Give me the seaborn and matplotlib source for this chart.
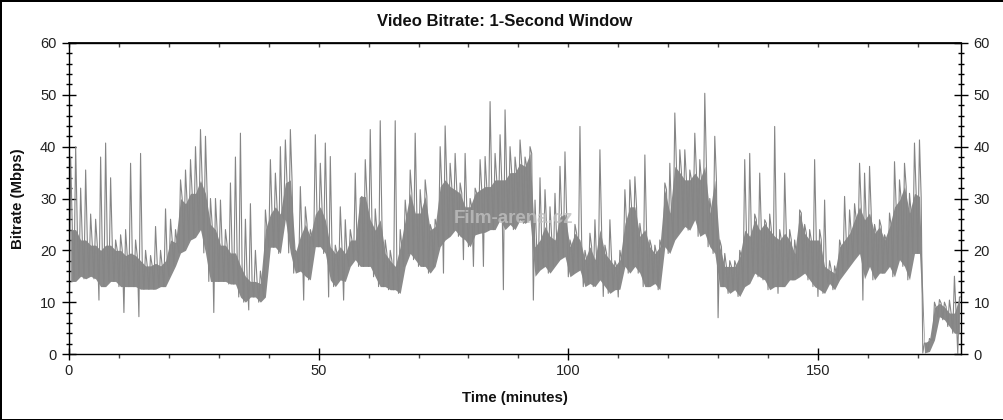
import numpy as np
import pandas as pd
import seaborn as sns
import matplotlib.pyplot as plt
from matplotlib.ticker import MultipleLocator

sns.set_theme(style="white")
plt.rcParams['font.family'] = ['Liberation Sans', 'DejaVu Sans']

# per-minute readings (Mbps): bottom/top of the dense band and highest spike
minutes = np.arange(179)
band_lo = [
    14, 14, 15, 14.5, 15, 14.5, 13, 13, 14, 14,
    13, 13, 13, 13, 12.5, 12.5, 12.5, 12.5, 13, 13,
    15, 17, 19.5, 20, 22, 22.5, 24, 19.5, 14, 14,
    14, 14, 13.5, 13.5, 11, 10, 11, 11, 10, 11,
    20.6, 20.6, 19.4, 26, 19.5, 15.6, 16, 15, 14.3, 20.7,
    20.7, 19.4, 14.3, 13, 14.3, 14, 16.9, 18.2, 16.9, 16.9,
    16.9, 14.9, 13, 13, 12.4, 12.4, 11.7, 16.9, 19.4, 18.2,
    16.9, 16.9, 15.6, 16.9, 20.7, 22, 22.7, 23.9, 22.7, 22,
    20.7, 23, 23.3, 23.5, 24, 24, 25.9, 24, 25, 24,
    25.9, 25.2, 25.9, 15, 16.2, 16.9, 15.6, 16.9, 18.2, 18.8,
    14.9, 15.6, 16.2, 13, 13.6, 13, 14.3, 13, 11.7, 12.4,
    12.5, 16.9, 15.6, 16.9, 15.6, 13, 13, 13.6, 12.4, 20.7,
    19.4, 22, 23.3, 24.6, 23.9, 25.9, 22.7, 23.3, 20.7, 19.4,
    13, 13, 11.7, 12.4, 11.1, 13, 13.6, 15.6, 14.9, 14.3,
    12.4, 13, 13, 13, 14.3, 14.3, 14.9, 15.6, 14.3, 13,
    12.4, 11.7, 13.6, 12.4, 14.3, 15.6, 16.9, 18.2, 19.4, 14.5,
    16.9, 14.3, 15.6, 15.6, 16.9, 14.9, 18.2, 16.9, 14.3, 19.4,
    19.4, 0.2, 0.5, 2.7, 7.2, 6.6, 5.3, 4, 4,
]
band_hi = [
    24, 24, 22, 22, 21, 21, 20, 21, 21, 20,
    20, 19, 19.5, 19, 18, 17, 17, 17.5, 17, 18,
    22, 21.5, 30, 29, 31, 31, 33.5, 31, 25, 24,
    21, 21, 19.5, 19.5, 17, 15, 14, 14, 13.6, 24,
    27, 28.4, 27, 33, 33.6, 19.5, 22.7, 25, 22.7, 27,
    28.4, 25.9, 20.7, 19.4, 20.7, 19.4, 22, 22, 30.4, 30.4,
    25.9, 23.9, 25.9, 19.4, 18, 16.9, 20.7, 25.9, 31, 27.2,
    27.2, 30.4, 23.9, 24.6, 32.3, 33.6, 32.3, 31.7, 31, 28.4,
    28.4, 31, 31.7, 32.3, 32.3, 33.6, 33.6, 33.6, 35, 35,
    36.8, 36.2, 38.7, 20.7, 22, 24.6, 22.7, 22, 26.5, 27,
    20.7, 23.3, 22, 18.2, 20.7, 18.2, 24, 19.4, 18.2, 16.9,
    18.2, 25.2, 28.4, 28.4, 22.7, 24, 20.7, 19.4, 20.7, 31.7,
    27.2, 36.2, 35, 33.6, 33.6, 34.9, 33.6, 36.2, 27.2, 33.6,
    20.7, 16.9, 16.9, 16.9, 18.8, 23.9, 22.7, 25.9, 23.9, 25.2,
    23.9, 22.7, 22, 23.3, 22, 19.4, 27.2, 23.3, 22, 22,
    22, 16.9, 16.2, 15.6, 20.7, 22, 23.3, 25.9, 28.4, 25.9,
    27.2, 23.3, 24.6, 22, 24.6, 28.4, 29.7, 32.3, 27.2, 31,
    30.4, 2.1, 2.7, 9, 9.8, 9.1, 7.9, 7.9, 11,
]
peak = [
    38, 40, 32, 35.5, 27, 26, 38, 40.7, 34, 22,
    23, 24, 36.8, 22, 38.7, 20, 19, 24.6, 20, 28,
    26, 24, 33.6, 35.5, 37.5, 40, 43.3, 42, 30, 30,
    29.7, 24, 33, 38, 42.6, 26, 29, 20, 16, 27.8,
    37.5, 34.9, 40, 41.3, 43.3, 20, 32.3, 28.4, 24, 42.3,
    36.8, 40.7, 38.1, 21, 28.4, 25.9, 24, 34.9, 30, 37.5,
    43.3, 28, 45, 22, 20, 45, 24, 29.7, 35.5, 42.6,
    31.7, 33.6, 25, 26, 40, 44, 36.8, 38.7, 33, 38.7,
    30, 32, 37.5, 38.1, 48.7, 38.7, 42.3, 47.1, 40, 38,
    41.3, 38, 40, 29.7, 34, 31.7, 28.4, 31, 36.2, 39,
    22, 25, 43.9, 20, 23.3, 25.9, 39.4, 21, 25.9, 18,
    20, 31.7, 33.6, 34.2, 25.2, 38.4, 22, 21, 22, 33,
    36.8, 46.5, 39.4, 39.4, 35.5, 42.6, 37.5, 50.3, 30, 42,
    22, 19.4, 18, 18, 20, 37.5, 38.7, 27, 34.9, 25.9,
    27, 43.9, 24, 34.9, 24, 22, 27.8, 25, 24, 37.5,
    24, 29.7, 18, 17, 22, 30.4, 27.8, 29, 36.8, 34.9,
    36.2, 25, 25.9, 23, 27.2, 37.1, 33.6, 36.8, 31, 40.7,
    41.3, 2.1, 3, 10, 10.5, 10, 10.4, 15, 11,
]
# single-second drops below the band
dip_minutes = [0, 6, 11, 14, 29, 36, 47, 52, 55, 75, 79, 81, 83, 87, 93,
               107, 110, 130, 142, 150, 159, 178]
dip_values = [0.5, 10.4, 8, 7.2, 8, 8.5, 10.4, 11, 10.4, 15.6, 18.2, 16.9,
              16.9, 12.4, 10.4, 11.1, 11, 7, 11.7, 11.1, 10.4, 0.1]

dips = dict(zip(dip_minutes, dip_values))
times, rates = [], []
for m in minutes:
    low = dips.get(m, band_lo[m])
    for off, val in zip((0.0, 1 / 3, 2 / 3), (low, peak[m], band_hi[m])):
        times.append(m + off)
        rates.append(val)
df = pd.DataFrame({'time': times, 'bitrate': rates})

fig = plt.figure(figsize=(10.04, 4.2), dpi=100)
fig.patch.set_edgecolor('black')
fig.patch.set_linewidth(2)
ax = fig.add_axes([69 / 1004, 66 / 420, 892 / 1004, 311 / 420])

ax.fill_between(minutes + 1 / 3, band_lo, band_hi, color='#8a8a8a', lw=0)
sns.lineplot(data=df, x='time', y='bitrate', estimator=None, sort=False,
             color='#858585', lw=0.8, ax=ax)

ax.set_xlim(0, 178.65)
ax.set_ylim(0, 60)
ax.set_xlabel('')
ax.set_ylabel('')
ax.xaxis.set_major_locator(MultipleLocator(50))
ax.xaxis.set_minor_locator(MultipleLocator(10))
ax.yaxis.set_major_locator(MultipleLocator(10))
ax.yaxis.set_minor_locator(MultipleLocator(2))

ax.tick_params(axis='y', which='major', left=True, right=True, labelleft=True,
               labelright=True, direction='inout', length=10, width=1,
               color='black', labelsize=10.5, labelcolor='#222222', pad=4)
ax.tick_params(axis='y', which='minor', left=True, right=True,
               direction='inout', length=5, width=1, color='black')
ax.tick_params(axis='x', which='major', bottom=True, direction='inout',
               length=9, width=1, color='black', labelsize=10.5,
               labelcolor='#222222', pad=3)
ax.tick_params(axis='x', which='minor', bottom=True, direction='out',
               length=3, width=1, color='#444444')

top = ax.secondary_xaxis('top')
top.xaxis.set_major_locator(MultipleLocator(50))
top.xaxis.set_minor_locator(MultipleLocator(10))
top.tick_params(axis='x', which='both', direction='in', length=3, width=1,
                color='#444444', labeltop=False)
top.spines['top'].set_color('black')

for sp in ax.spines.values():
    sp.set_color('black')
    sp.set_linewidth(1)

ax.text(0.498, 0.437, 'Film-arena.cz', transform=ax.transAxes, ha='center',
        va='center', fontsize=13.5, fontweight='bold', color='#c0c0c0',
        alpha=0.8, zorder=5)

fig.text(0.503, 0.95, 'Video Bitrate: 1-Second Window', ha='center',
         va='center', fontsize=12, fontweight='bold', color='#111111')
fig.text(18 / 1004, 0.527, 'Bitrate (Mbps)', rotation=90, ha='center',
         va='center', fontsize=10.8, fontweight='bold', color='#111111')
fig.text(515 / 1004, 0.052, 'Time (minutes)', ha='center', va='center',
         fontsize=10.8, fontweight='bold', color='#111111')

fig.savefig('out.png', dpi=100)
